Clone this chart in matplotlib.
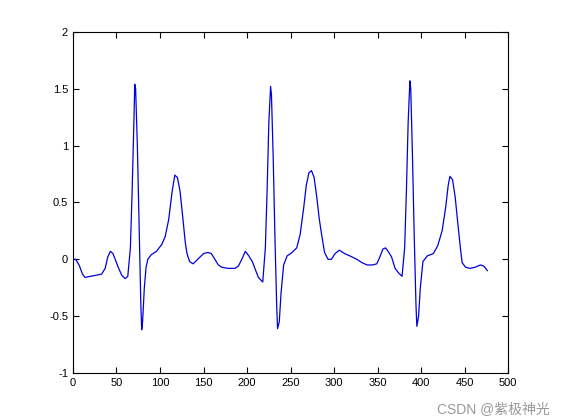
import matplotlib
matplotlib.use("Agg")
from matplotlib import pyplot as plt

# sample index and ECG amplitude
x_vals = [0, 3, 7, 11, 14, 20, 27, 33, 37, 40, 43, 46, 49, 52, 56, 60, 63, 66, 68, 70, 71,
          72, 74, 76, 78, 79, 80, 82, 84, 86, 90, 96, 102, 106, 110, 114, 117, 120, 123,
          126, 129, 131, 134, 138, 142, 146, 150, 155, 159, 163, 167, 171, 178, 186, 190,
          194, 198, 202, 206, 210, 213, 218, 221, 223, 225, 227, 228, 230, 232, 234, 235,
          237, 239, 242, 246, 250, 253, 257, 261, 265, 268, 271, 274, 277, 280, 283, 286,
          289, 293, 297, 301, 306, 312, 318, 326, 332, 338, 344, 349, 353, 356, 359, 362,
          366, 370, 374, 378, 381, 383, 385, 387, 388, 390, 392, 394, 395, 397, 399, 402,
          407, 414, 419, 424, 428, 431, 433, 436, 439, 442, 445, 447, 451, 456, 462, 468,
          472, 476]
y_vals = [0.0, 0.0, -0.05, -0.13, -0.16, -0.15, -0.14, -0.13, -0.08, 0.02, 0.07, 0.05,
          -0.01, -0.07, -0.14, -0.17, -0.15, 0.1, 0.6, 1.2, 1.54, 1.5, 1.0, 0.3, -0.4, -0.62,
          -0.55, -0.25, -0.07, 0.0, 0.04, 0.07, 0.13, 0.2, 0.35, 0.6, 0.74, 0.72, 0.6, 0.38,
          0.15, 0.05, -0.02, -0.04, -0.01, 0.02, 0.05, 0.06, 0.05, 0.0, -0.05, -0.07, -0.08,
          -0.08, -0.06, 0.0, 0.07, 0.03, -0.02, -0.1, -0.16, -0.2, 0.1, 0.6, 1.2, 1.52, 1.45,
          0.9, 0.2, -0.4, -0.61, -0.55, -0.3, -0.05, 0.03, 0.05, 0.07, 0.1, 0.22, 0.45, 0.65,
          0.76, 0.78, 0.72, 0.55, 0.35, 0.2, 0.06, 0.0, 0.0, 0.05, 0.08, 0.05, 0.03, 0.0,
          -0.03, -0.05, -0.05, -0.04, 0.03, 0.09, 0.1, 0.07, 0.02, -0.08, -0.12, -0.15, 0.1,
          0.6, 1.2, 1.57, 1.5, 0.9, 0.2, -0.4, -0.59, -0.5, -0.25, -0.02, 0.03, 0.05, 0.12,
          0.25, 0.45, 0.65, 0.73, 0.7, 0.55, 0.32, 0.1, -0.03, -0.07, -0.08, -0.07, -0.05,
          -0.06, -0.1]

plt.rcParams['font.family'] = ['Liberation Sans', 'Noto Sans CJK SC']
fig = plt.figure(figsize=(5.61, 4.2), dpi=100)
ax = fig.add_axes([0.130, 0.112, 0.776, 0.812])
ax.plot(x_vals, y_vals, color="#0000dd", linewidth=0.9)
ax.set_xlim(0, 500)
ax.set_ylim(-1, 2)
ax.set_xticks(range(0, 501, 50))
ax.set_yticks([-1, -0.5, 0, 0.5, 1, 1.5, 2])
ax.set_yticklabels(["-1", "-0.5", "0", "0.5", "1", "1.5", "2"])
ax.tick_params(direction="in", labelsize=8, top=True, right=True, length=4)
fig.text(0.98, 0.01, "CSDN @紫极神光", ha="right", va="bottom", fontsize=10, color="#999999")
fig.savefig("out.png")
